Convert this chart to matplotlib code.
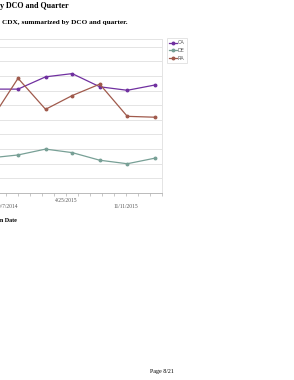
import datetime as dt
import matplotlib
matplotlib.use('Agg')
import matplotlib.pyplot as plt

# quarterly points (mid-quarter)
dates = ['2014-08-15', '2014-11-15', '2015-02-15', '2015-05-15',
         '2015-08-15', '2015-11-15', '2016-02-15']
ca = [35.5, 35.5, 39.7, 40.8, 36.3, 35.1, 36.9]
de = [12.0, 13.0, 15.0, 13.8, 11.2, 10.0, 11.9]
ra = [24.7, 39.2, 28.6, 33.3, 37.2, 26.2, 25.9]
tick_dates = ['2014-10-07', '2015-04-25', '2015-11-11']
tick_labels = ['10/7/2014', '4/25/2015', '11/11/2015']

x = [dt.datetime.strptime(d, '%Y-%m-%d') for d in dates]
xt = [dt.datetime.strptime(d, '%Y-%m-%d') for d in tick_dates]

W, H = 294, 380
fig = plt.figure(figsize=(W / 100, H / 100), dpi=100)

# page text (cropped page)
serif = 'Liberation Serif'
fig.text(-0.2 / W, 1 - 6.5 / H, 'y DCO and Quarter', family=serif, weight='bold',
         fontsize=5.8, va='center', ha='left')
fig.text(2 / W, 1 - 22.5 / H, 'CDX, summarized by DCO and quarter.', family=serif,
         weight='bold', fontsize=5.2, va='center', ha='left')
fig.text(-0.5 / W, 1 - 220 / H, 'n Date', family=serif, weight='bold',
         fontsize=4.3, va='center', ha='left')
fig.text(150 / W, 1 - 372 / H, 'Page 8/21', family=serif, fontsize=4.3,
         va='center', ha='left')

# axes extends past left edge of the page crop
x0 = dt.datetime(2014, 5, 15)
x1 = dt.datetime(2016, 2, 16)
days = (x1 - x0).days
px_per_day = 0.317
left_px = 162 - days * px_per_day
ax = fig.add_axes([left_px / W, (H - 193) / H, (162 - left_px) / W, (193 - 38.5) / H])

ax.plot(x, ca, color='#7030a0', lw=0.9, marker='o', ms=1.8, label='CA')
ax.plot(x, de, color='#78a096', lw=0.9, marker='o', ms=1.8, label='DE')
ax.plot(x, ra, color='#a05a4c', lw=0.9, marker='o', ms=1.8, label='RA')

ax.set_xlim(x0, x1)
ax.set_ylim(0, 52.8)
ax.set_yticks(range(0, 55, 5))
ax.yaxis.grid(True, color='#e4e4e4', lw=0.7)
ax.tick_params(axis='y', left=False, labelleft=False)

ax.set_xticks(xt)
ax.set_xticklabels(tick_labels)
minor = [xt[0] + dt.timedelta(days=40 * k) for k in range(-4, 14)]
ax.set_xticks(minor, minor=True)
ax.tick_params(axis='x', which='both', length=2.5, width=0.5, color='#b0b0b0',
               labelsize=4.0, labelcolor='#555555')
for lab in ax.get_xticklabels():
    lab.set_family(serif)
# staggered labels: middle one sits higher
for i, tk in enumerate(ax.xaxis.get_major_ticks()):
    tk.set_pad(1.0 if i == 1 else 5.5)

for s in ['top', 'right', 'left']:
    ax.spines[s].set_color('#e4e4e4')
    ax.spines[s].set_linewidth(0.7)
ax.spines['bottom'].set_color('#b0b0b0')
ax.spines['bottom'].set_linewidth(0.6)

leg = fig.legend(loc='upper left', bbox_to_anchor=(166.5 / W, 1 - 38.3 / H),
                 fontsize=3.6, handlelength=1.6, handletextpad=0.3,
                 borderpad=0.4, labelspacing=0.55, frameon=True, fancybox=False,
                 borderaxespad=0)
leg.get_frame().set_edgecolor('#d8d8d8')
leg.get_frame().set_linewidth(0.6)
for t in leg.get_texts():
    t.set_color('#555555')

fig.savefig('out.png', dpi=100)
